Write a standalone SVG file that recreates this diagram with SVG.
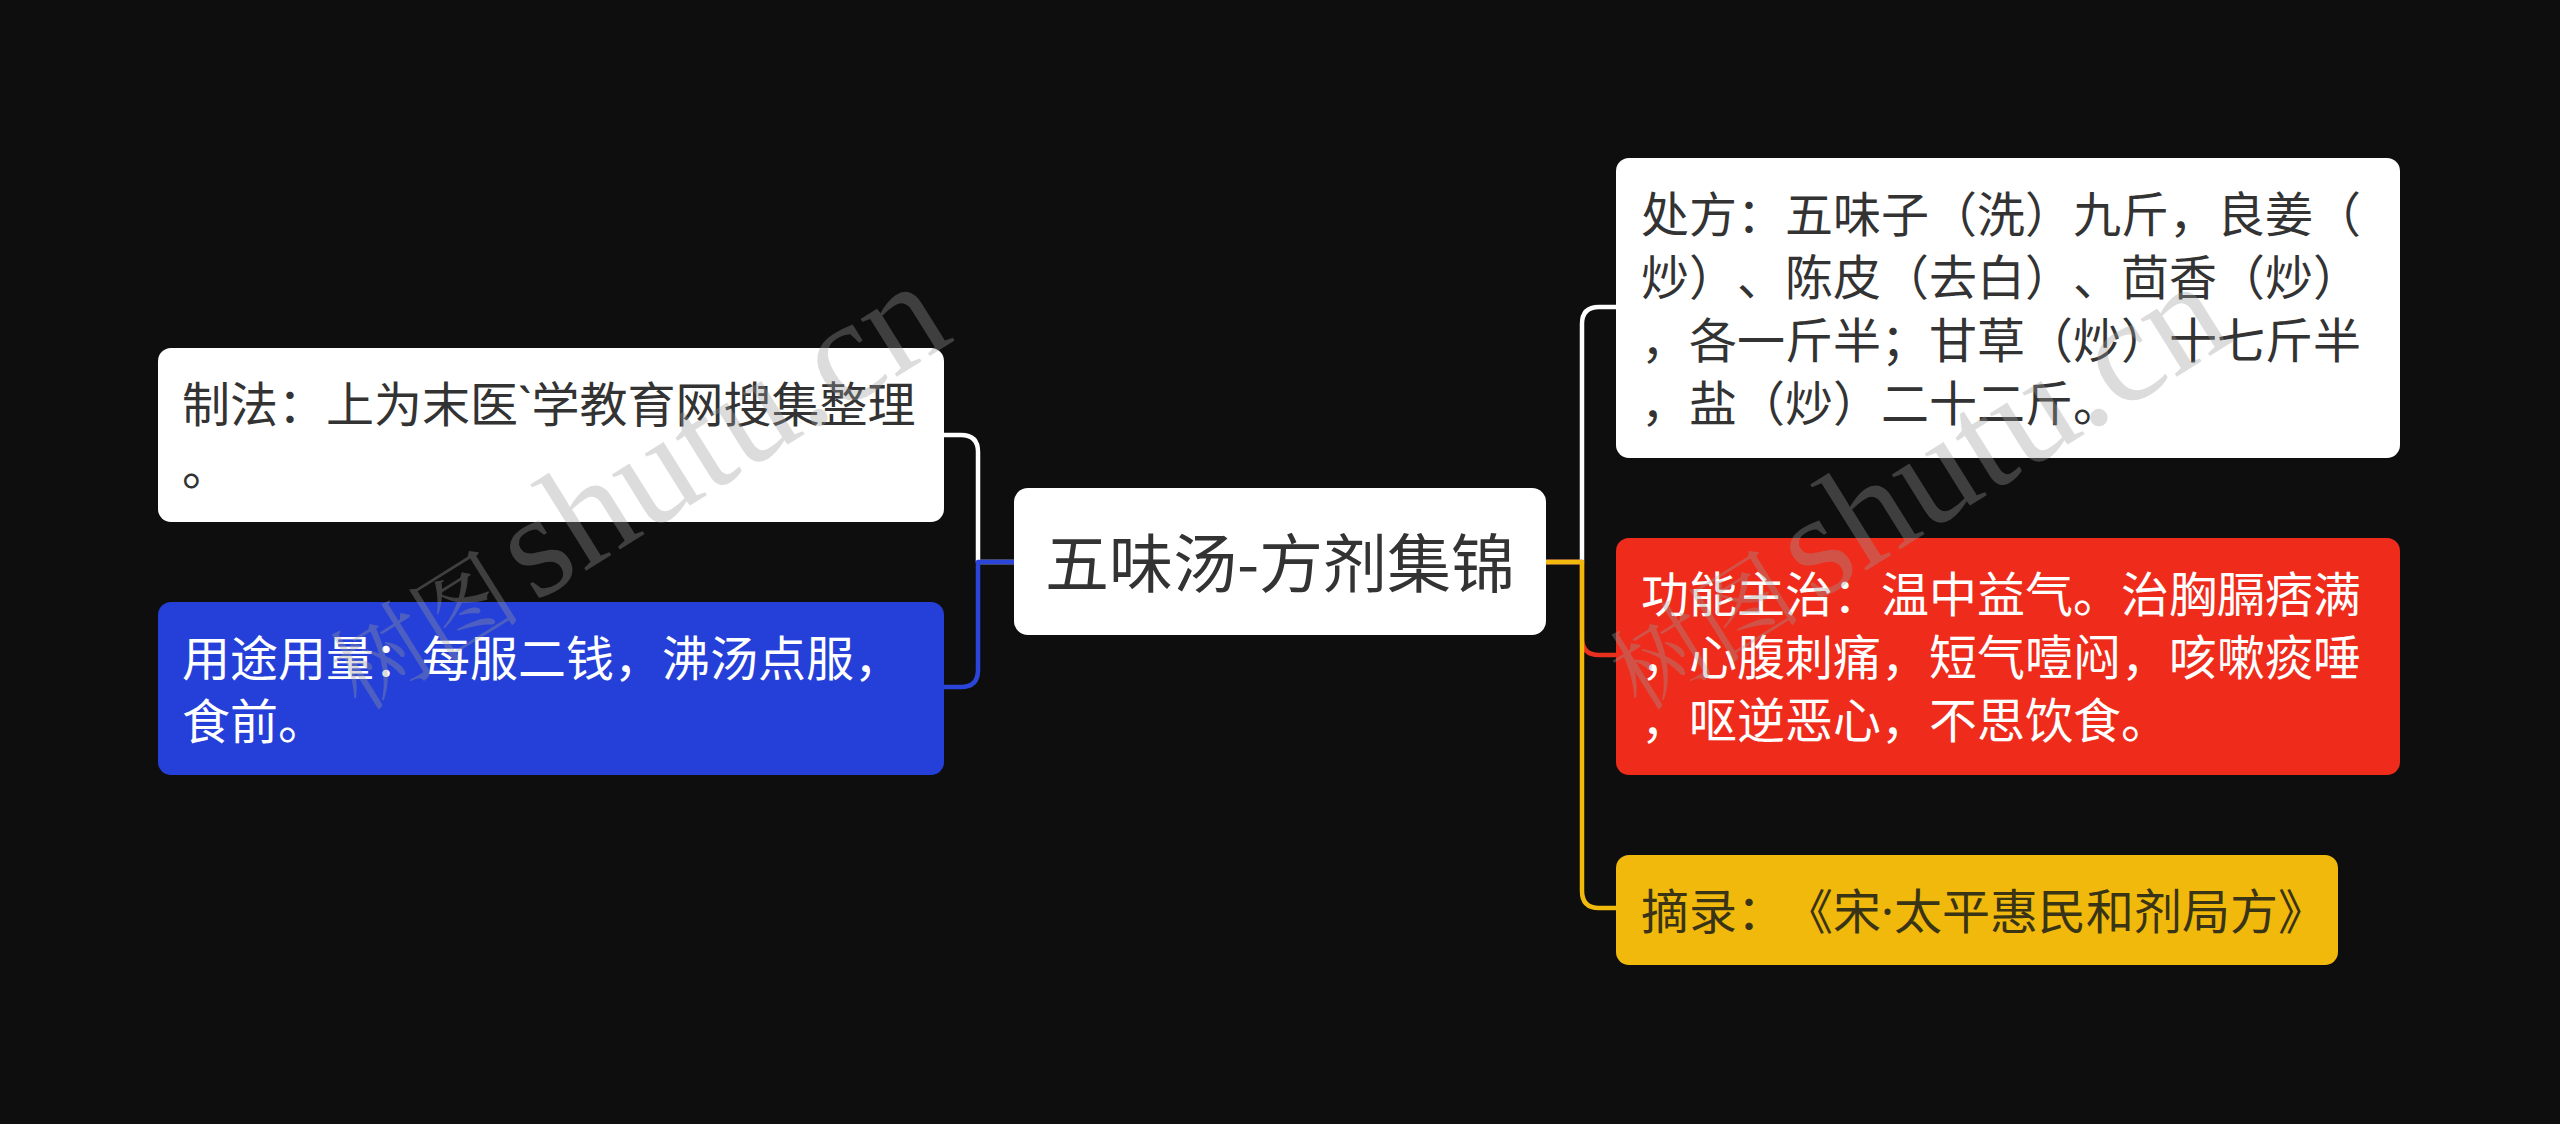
<svg xmlns="http://www.w3.org/2000/svg" width="2560" height="1124" viewBox="0 0 2560 1124">
  <style>
    text { text-spacing-trim: space-all; font-kerning: none; }
    .t { font-family: "Noto Sans CJK SC", "Noto Sans", sans-serif; font-size: 48px; }
    .lat { font-family: "Noto Sans", sans-serif; }
    .dark { fill: #333333; }
    .light { fill: #ffffff; }
    .olive { fill: #3a3416; }
    .conn { fill: none; stroke-width: 4.5; stroke-linejoin: round; }
    .wm { font-family: "Liberation Serif", "Noto Serif CJK SC", "Noto Sans CJK SC", serif; fill: #9a9a9a; fill-opacity: 0.35; }
  </style>
  <rect x="0" y="0" width="2560" height="1124" fill="#0e0e0e"/>

  <g id="connectors">
    <path class="conn" stroke="#ffffff" d="M 1014 562 H 978 V 452 Q 978 435 961 435 H 944"/>
    <path class="conn" stroke="#2a45d8" d="M 1014 562 H 978 V 670 Q 978 687 961 687 H 944"/>
    <path class="conn" stroke="#ffffff" d="M 1546 562 H 1582 V 324 Q 1582 307 1599 307 H 1616"/>
    <path class="conn" stroke="#e8301e" d="M 1546 562 H 1582 V 638 Q 1582 655 1599 655 H 1616"/>
    <path class="conn" stroke="#f0b90c" d="M 1546 562 H 1582 V 891 Q 1582 908 1599 908 H 1616"/>
  </g>

  <g id="center">
    <rect x="1014" y="488" width="532" height="147" rx="14" fill="#ffffff"/>
    <text class="t dark" x="1280" y="587" text-anchor="middle" style="font-size:64px">五味汤-方剂集锦</text>
  </g>

  <g id="node-zhifa">
    <rect x="158" y="348" width="786" height="174" rx="13" fill="#ffffff"/>
    <text class="t dark" x="182" y="422">制法：上为末医<tspan class="lat">`</tspan>学教育网搜集整理</text>
    <text class="t dark" x="182" y="485">。</text>
  </g>

  <g id="node-yongtu">
    <rect x="158" y="602" width="786" height="173" rx="13" fill="#2540d8"/>
    <text class="t light" x="182" y="676">用途用量：每服二钱，沸汤点服，</text>
    <text class="t light" x="182" y="739">食前。</text>
  </g>

  <g id="node-chufang">
    <rect x="1616" y="158" width="784" height="300" rx="13" fill="#ffffff"/>
    <text class="t dark" x="1641" y="232">处方：五味子（洗）九斤，良姜（</text>
    <text class="t dark" x="1641" y="295">炒）、陈皮（去白）、茴香（炒）</text>
    <text class="t dark" x="1641" y="358">，各一斤半；甘草（炒）十七斤半</text>
    <text class="t dark" x="1641" y="421">，盐（炒）二十二斤。</text>
  </g>

  <g id="node-gongneng">
    <rect x="1616" y="538" width="784" height="237" rx="13" fill="#ef2b1b"/>
    <text class="t light" x="1641" y="612">功能主治：温中益气。治胸膈痞满</text>
    <text class="t light" x="1641" y="675">，心腹刺痛，短气噎闷，咳嗽痰唾</text>
    <text class="t light" x="1641" y="738">，呕逆恶心，不思饮食。</text>
  </g>

  <g id="node-zhailu">
    <rect x="1616" y="855" width="722" height="110" rx="13" fill="#f1b90c"/>
    <text class="t olive" x="1641" y="929">摘录：《宋<tspan class="lat">·</tspan>太平惠民和剂局方》</text>
  </g>

  <g id="watermark">
    <text class="wm" transform="translate(360,712) rotate(-32)"><tspan font-size="96">树图</tspan><tspan font-size="148" dx="14">shutu.cn</tspan></text>
    <text class="wm" transform="translate(1640,712) rotate(-32)"><tspan font-size="96">树图</tspan><tspan font-size="148" dx="14">shutu.cn</tspan></text>
  </g>
</svg>
